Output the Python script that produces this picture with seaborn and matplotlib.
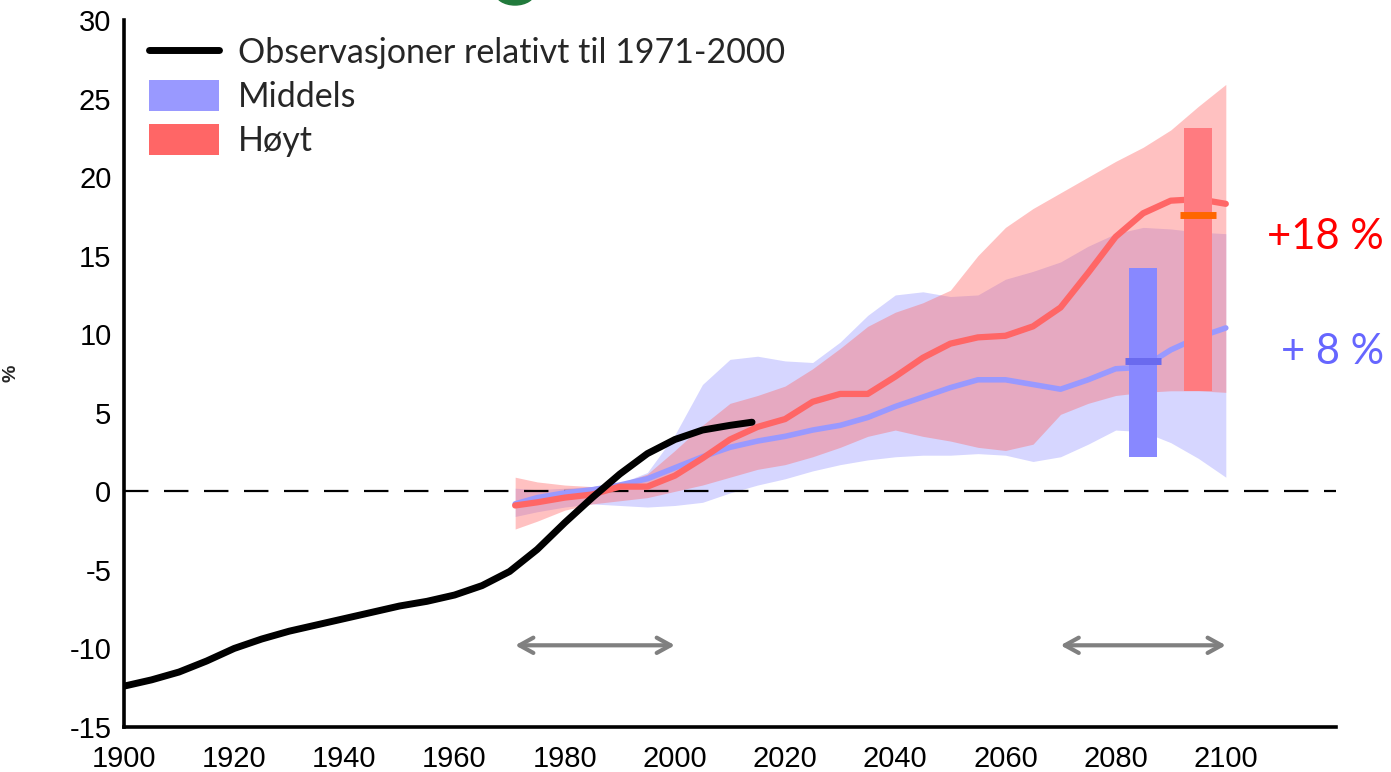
import numpy as np
import pandas as pd
import matplotlib
matplotlib.use("Agg")
import matplotlib.pyplot as plt
import seaborn as sns
from matplotlib.lines import Line2D
from matplotlib.patches import Patch, Ellipse

# ---------------- data ----------------
obs_years = [1900, 1905, 1910, 1915, 1920, 1925, 1930, 1935, 1940, 1945, 1950, 1955,
             1960, 1965, 1970, 1975, 1980, 1985, 1990, 1995, 2000, 2005, 2010, 2014]
obs_values = [-12.4, -12.0, -11.5, -10.8, -10.0, -9.4, -8.9, -8.5, -8.1, -7.7, -7.3, -7.0,
              -6.6, -6.0, -5.1, -3.7, -2.0, -0.4, 1.1, 2.4, 3.3, 3.9, 4.2, 4.4]

proj_years = [1971, 1975, 1980, 1985, 1990, 1995, 2000, 2005, 2010, 2015, 2020, 2025, 2030,
              2035, 2040, 2045, 2050, 2055, 2060, 2065, 2070, 2075, 2080, 2085, 2090, 2095, 2100]
middels_mean = [-0.8, -0.4, -0.1, 0.1, 0.4, 0.8, 1.5, 2.2, 2.8, 3.2, 3.5, 3.9, 4.2,
                4.7, 5.4, 6.0, 6.6, 7.1, 7.1, 6.8, 6.5, 7.1, 7.8, 7.9, 9.0, 9.8, 10.4]
middels_lo = [-1.6, -1.3, -1.0, -0.8, -0.9, -1.0, -0.9, -0.7, -0.1, 0.4, 0.8, 1.3, 1.7,
              2.0, 2.2, 2.3, 2.3, 2.4, 2.3, 1.9, 2.2, 3.0, 3.9, 3.8, 3.1, 2.1, 0.9]
middels_hi = [0.2, 0.1, 0.2, 0.3, 0.5, 1.2, 3.6, 6.8, 8.4, 8.6, 8.3, 8.2, 9.5,
              11.2, 12.5, 12.7, 12.4, 12.5, 13.5, 14.0, 14.6, 15.6, 16.4, 16.8, 16.7, 16.5, 16.4]
hoyt_mean = [-0.9, -0.7, -0.4, -0.2, 0.3, 0.3, 1.0, 2.1, 3.3, 4.1, 4.6, 5.7, 6.2,
             6.2, 7.3, 8.5, 9.4, 9.8, 9.9, 10.5, 11.7, 13.9, 16.2, 17.7, 18.5, 18.6, 18.3]
hoyt_lo = [-2.4, -1.9, -1.2, -0.8, -0.6, -0.4, 0.0, 0.4, 0.9, 1.4, 1.7, 2.2, 2.8,
           3.5, 3.9, 3.5, 3.2, 2.8, 2.6, 3.0, 4.9, 5.6, 6.1, 6.3, 6.4, 6.4, 6.3]
hoyt_hi = [0.9, 0.6, 0.4, 0.3, 0.5, 1.1, 2.6, 4.2, 5.6, 6.1, 6.7, 7.8, 9.1,
           10.5, 11.4, 12.0, 12.8, 15.0, 16.8, 18.0, 19.0, 20.0, 21.0, 21.9, 23.0, 24.5, 25.9]

bar_centers = [2085, 2095]
bar_lo = [2.2, 6.4]
bar_hi = [14.2, 23.1]
bar_mid = [8.3, 17.6]

period_arrows = [(1971, 2000), (2070, 2100)]
arrow_level = -9.8

legend_labels = ["Observasjoner relativt til 1971-2000", "Middels", "Høyt"]
change_labels = ["+18 %", "+ 8 %"]
change_levels = [16.2, 8.85]
xticks = list(range(1900, 2101, 20))
yticks = list(range(-15, 31, 5))

# ---------------- style ----------------
sns.set_style("white")
plt.rcParams["font.family"] = ["Liberation Sans", "DejaVu Sans"]

BLUE = "#9999ff"
RED = "#ff6666"

fig = plt.figure(figsize=(13.91, 7.72), dpi=100)
ax = fig.add_axes([124 / 1391, 1 - 727 / 772, 1212 / 1391, 707 / 772])

obs = pd.DataFrame({"year": obs_years, "value": obs_values})
proj = pd.DataFrame({"year": proj_years, "mid": middels_mean, "mid_lo": middels_lo,
                     "mid_hi": middels_hi, "hi": hoyt_mean, "hi_lo": hoyt_lo,
                     "hi_hi": hoyt_hi})

ax.fill_between(proj["year"], proj["mid_lo"], proj["mid_hi"], color=BLUE, alpha=0.4,
                lw=0, zorder=1)
ax.fill_between(proj["year"], proj["hi_lo"], proj["hi_hi"], color=RED, alpha=0.4,
                lw=0, zorder=2)

ax.axhline(0, color="black", lw=1.6, dashes=(11, 7), zorder=3)

sns.lineplot(data=proj, x="year", y="mid", ax=ax, color=BLUE, lw=4, zorder=4)
sns.lineplot(data=proj, x="year", y="hi", ax=ax, color=RED, lw=4.5, zorder=5)
sns.lineplot(data=obs, x="year", y="value", ax=ax, color="black", lw=5, zorder=6)

# uncertainty bars for 2071-2100
bar_colors = ["#8888ff", "#ff7b80"]
mid_colors = ["#6a6aee", "#ff6600"]
for c, lo, hi, m, bc, mc in zip(bar_centers, bar_lo, bar_hi, bar_mid, bar_colors, mid_colors):
    ax.bar(c, hi - lo, bottom=lo, width=5, color=bc, zorder=7, lw=0)
    ax.hlines(m, c - 3.3, c + 3.3, color=mc, lw=5, zorder=8)

# period arrows
for a, b in period_arrows:
    ax.annotate("", xy=(b, arrow_level), xytext=(a, arrow_level),
                arrowprops=dict(arrowstyle="<->,head_length=1.0,head_width=0.55",
                                color="#808080", lw=3, shrinkA=0, shrinkB=0), zorder=3)

# change labels (right-aligned near the right figure edge)
label_x = 1900 + (1384 - 124) / (1212 / 220)
ax.text(label_x, change_levels[0], change_labels[0], color="#ff0000", fontsize=30,
        family="Lato", ha="right", va="center", clip_on=False)
ax.text(label_x, change_levels[1], change_labels[1], color="#6666ff", fontsize=30,
        family="Lato", ha="right", va="center", clip_on=False)

# axes
ax.set_xlim(1900, 2120)
ax.set_ylim(-15, 30)
ax.set_xticks(xticks)
ax.set_yticks(yticks)
ax.set_xticklabels([str(t) for t in xticks])
ax.set_yticklabels([str(t) for t in yticks])
ax.tick_params(axis="both", direction="in", length=6, width=2.2, labelsize=21,
               colors="black")
ax.tick_params(axis="x", pad=13)
ax.tick_params(axis="y", pad=9)
for s in ["top", "right"]:
    ax.spines[s].set_visible(False)
for s in ["left", "bottom"]:
    ax.spines[s].set_color("black")
    ax.spines[s].set_linewidth(2.6)
ax.set_xlabel("")
ax.set_ylabel("%", fontsize=14, fontweight="bold")
ax.yaxis.set_label_coords(-0.086, 0.5)

handles = [Line2D([0], [0], color="black", lw=5),
           Patch(facecolor=BLUE, edgecolor="none"),
           Patch(facecolor=RED, edgecolor="none")]
leg = ax.legend(handles, legend_labels, loc="upper left", bbox_to_anchor=(0.021, 0.977),
                frameon=False, prop={"family": "Lato", "size": 24.5}, handlelength=2.05,
                handleheight=1.0, handletextpad=0.55, labelspacing=0.33, borderpad=0,
                borderaxespad=0)

# partial green shape cut off at the top edge
fig.add_artist(Ellipse((515 / 1391, 1 + 8 / 772), 40 / 1391, 26 / 772,
                       transform=fig.transFigure, color="#217a3c", clip_on=False))

fig.savefig("out.png", dpi=100)
